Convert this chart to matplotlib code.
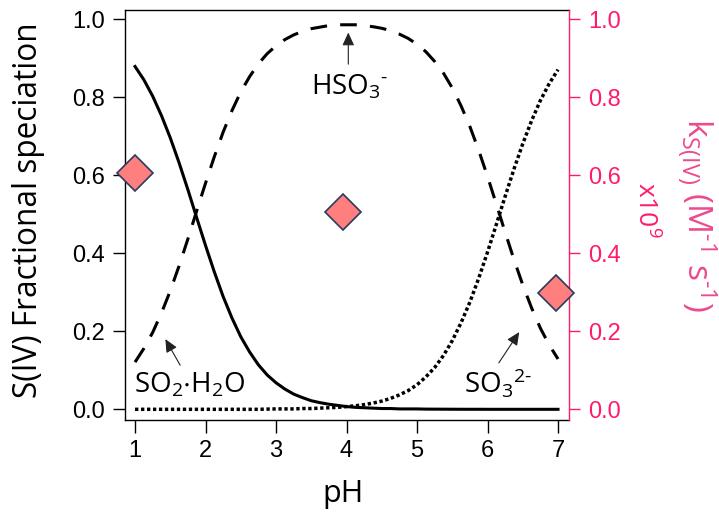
import matplotlib
matplotlib.use('Agg')
import matplotlib.pyplot as plt
from matplotlib.ticker import FormatStrFormatter

plt.rcParams['font.family'] = ['Open Sans', 'DejaVu Sans']
plt.rcParams['mathtext.fontset'] = 'custom'
plt.rcParams['mathtext.rm'] = 'Open Sans'
plt.rcParams['mathtext.default'] = 'regular'
plt.rcParams['lines.scale_dashes'] = False

# speciation
ph = [1.0, 1.125, 1.25, 1.375, 1.5, 1.625, 1.75, 1.875, 2.0,
      2.125, 2.25, 2.375, 2.5, 2.625, 2.75, 2.875, 3.0,
      3.125, 3.25, 3.375, 3.5, 3.625, 3.75, 3.875, 4.0,
      4.125, 4.25, 4.375, 4.5, 4.625, 4.75, 4.875, 5.0,
      5.125, 5.25, 5.375, 5.5, 5.625, 5.75, 5.875, 6.0,
      6.125, 6.25, 6.375, 6.5, 6.625, 6.75, 6.875, 7.0]
so2_h2o = [0.879, 0.845, 0.803, 0.753, 0.696, 0.632, 0.563, 0.491, 0.420,
           0.352, 0.289, 0.234, 0.186, 0.147, 0.114, 0.088, 0.068,
           0.052, 0.039, 0.030, 0.022, 0.017, 0.013, 0.010, 0.007,
           0.005, 0.004, 0.003, 0.002, 0.002, 0.001, 0.001, 0.001,
           0.0005, 0.0004, 0.0003, 0.0002, 0.0001, 0.0001, 0.0001, 0.0,
           0.0, 0.0, 0.0, 0.0, 0.0, 0.0, 0.0, 0.0]
hso3 = [0.121, 0.156, 0.197, 0.247, 0.304, 0.368, 0.437, 0.509, 0.580,
        0.648, 0.711, 0.766, 0.814, 0.853, 0.886, 0.912, 0.932,
        0.948, 0.960, 0.969, 0.976, 0.980, 0.984, 0.986, 0.986,
        0.986, 0.984, 0.981, 0.977, 0.971, 0.962, 0.951, 0.936,
        0.917, 0.892, 0.862, 0.824, 0.778, 0.725, 0.664, 0.597,
        0.526, 0.454, 0.384, 0.319, 0.260, 0.208, 0.165, 0.129]
so3 = [0.0, 0.0, 0.0, 0.0, 0.0, 0.0, 0.0, 0.0, 0.0,
       0.0, 0.0, 0.0, 0.0, 0.0, 0.0, 0.0005, 0.001,
       0.001, 0.001, 0.002, 0.002, 0.003, 0.004, 0.005, 0.007,
       0.009, 0.012, 0.016, 0.021, 0.028, 0.037, 0.048, 0.063,
       0.083, 0.107, 0.138, 0.176, 0.222, 0.275, 0.336, 0.403,
       0.474, 0.546, 0.616, 0.681, 0.740, 0.792, 0.835, 0.871]

# rate constants (x10^9 M-1 s-1)
k_ph = [1.0, 3.95, 6.97]
k_val = [0.606, 0.506, 0.299]

pink = '#FF1A6E'
pink_label = '#EC4A8E'

fig = plt.figure(figsize=(7.19, 5.12), dpi=100)
ax = fig.add_axes([0.1739, 0.1797, 0.6175, 0.8017])

ax.plot(ph, so2_h2o, color='black', lw=2.2)
ax.plot(ph, hso3, color='black', lw=2.2, linestyle=(0, (12, 9.5)))
ax.plot(ph, so3, color='black', lw=2.5, linestyle=(0, (2.4, 1.9)))

ax.set_xlim(0.858, 7.156)
ax.set_ylim(-0.0274, 1.0251)
ax.set_xticks([1, 2, 3, 4, 5, 6, 7])
ax.set_yticks([0.0, 0.2, 0.4, 0.6, 0.8, 1.0])
ax.yaxis.set_major_formatter(FormatStrFormatter('%.1f'))
ax.tick_params(direction='out', length=9, width=1, labelsize=17, pad=5.5,
               labelfontfamily='Liberation Sans')
ax.spines['right'].set_visible(False)
for s in ['left', 'top', 'bottom']:
    ax.spines[s].set_linewidth(1)

ax2 = ax.twinx()
ax2.set_ylim(-0.0274, 1.0251)
ax2.set_yticks([0.0, 0.2, 0.4, 0.6, 0.8, 1.0])
ax2.yaxis.set_major_formatter(FormatStrFormatter('%.1f'))
ax2.tick_params(direction='out', length=8, width=1, labelsize=17, pad=5.5,
                colors=pink, labelfontfamily='Liberation Sans')
for s in ['left', 'top', 'bottom']:
    ax2.spines[s].set_visible(False)
ax2.spines['right'].set_color(pink)
ax2.spines['right'].set_linewidth(1)

ax2.plot(k_ph, k_val, linestyle='none', marker='D', markersize=18,
         markerfacecolor='#FF7F7F', markeredgecolor='#2B3A5E',
         markeredgewidth=1.2, clip_on=False, zorder=5)

# annotations
arrow = dict(arrowstyle='-|>,head_length=0.65,head_width=0.3', color='#222222',
             lw=0.8, mutation_scale=12, shrinkA=0, shrinkB=0)
ax.annotate('', xy=(4.025, 0.966), xytext=(4.025, 0.885), arrowprops=arrow)
ax.annotate('', xy=(1.43, 0.18), xytext=(1.64, 0.113), arrowprops=arrow)
ax.annotate('', xy=(6.45, 0.198), xytext=(6.16, 0.119), arrowprops=arrow)
ax.text(3.5, 0.806, 'HSO$_3$$^{\\text{-}}$', fontsize=20, ha='left', va='baseline')
ax.text(0.98, 0.043, 'SO$_2$$\\cdot$H$_2$O', fontsize=20, ha='left', va='baseline')
ax.text(5.67, 0.043, 'SO$_3$$^{2\\text{-}}$', fontsize=20, ha='left', va='baseline')

# axis labels
fig.text(0.0515, 0.589, 'S(IV) Fractional speciation', fontsize=22.7, rotation=90,
         rotation_mode='anchor', ha='center', va='baseline')
fig.text(0.477, 0.0195, 'pH', fontsize=22, ha='center', va='baseline')
fig.text(0.9555, 0.581, 'k$_{S(IV)}$ (M$^{\\text{-}1}$ s$^{\\text{-}1}$)', fontsize=24,
         rotation=-90, rotation_mode='anchor', ha='center', va='baseline',
         color=pink_label)
fig.text(0.887, 0.590, 'x10$^{9}$', fontsize=19, rotation=-90,
         rotation_mode='anchor', ha='center', va='baseline', color=pink)

fig.savefig('out.png', dpi=100)
